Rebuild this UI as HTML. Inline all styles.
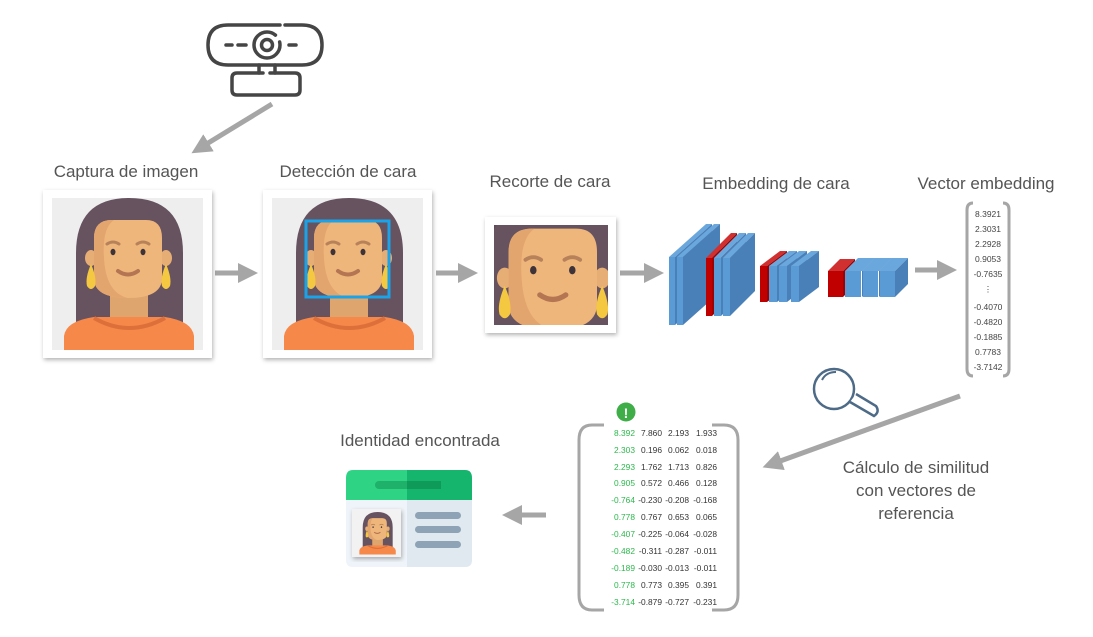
<!DOCTYPE html>
<html><head><meta charset="utf-8"><style>
html,body{margin:0;padding:0;background:#fff;}
svg{display:block;font-family:"Liberation Sans",sans-serif;}
.lbl{font-size:17px;fill:#555;text-anchor:middle;}
.v{font-size:8.5px;fill:#444;text-anchor:middle;}
.m{font-size:8.4px;fill:#333;text-anchor:end;}
.g{fill:#2db84d;}
</style></head><body>
<svg width="1093" height="637" viewBox="0 0 1093 637" xmlns="http://www.w3.org/2000/svg">
<defs>
<g id="face">
  <path d="M24,152 L24,55 Q24,0 77,0 Q131,0 131,55 L131,152 Z" fill="#675360"/>
  <rect x="58" y="90" width="38" height="40" fill="#dfa56e"/>
  <path d="M12,152 L12,138 Q14,123 42,119 L113,119 Q140,123 142,138 L142,152 Z" fill="#f6884a"/>
  <path d="M42,120 Q77,140 113,120" stroke="#dd6f3a" stroke-width="4" fill="none"/>
  <ellipse cx="39" cy="60" rx="6" ry="8" fill="#e6ad75"/>
  <ellipse cx="114" cy="60" rx="6" ry="8" fill="#e6ad75"/>
  <path d="M42,40 Q42,22 60,22 L94,22 Q110,22 110,40 L110,80 Q110,100 76,100 Q42,100 42,80 Z" fill="#efb67c"/>
  <path d="M42,40 Q42,22 60,22 L62,22 Q50,30 52,60 Q54,95 76,100 Q42,100 42,80 Z" fill="#e3a56e"/>
  <path d="M55,46 Q61,42 67,46" stroke="#b7825a" stroke-width="3" fill="none" stroke-linecap="round"/>
  <path d="M85,46 Q91,42 97,46" stroke="#b7825a" stroke-width="3" fill="none" stroke-linecap="round"/>
  <ellipse cx="61" cy="54" rx="2.5" ry="3.2" fill="#3d3338"/>
  <ellipse cx="91" cy="54" rx="2.5" ry="3.2" fill="#3d3338"/>
  <path d="M66,73 Q76,80 86,73" stroke="#b37552" stroke-width="4" fill="none" stroke-linecap="round"/>
  <path d="M39,66 Q33,80 35,88 Q39,94 43,88 Q45,80 39,66 Z" fill="#f5c842"/>
  <path d="M114,66 Q108,80 110,88 Q114,94 118,88 Q120,80 114,66 Z" fill="#f5c842"/>
</g>
<filter id="sh" x="-10%" y="-10%" width="120%" height="120%"><feDropShadow dx="1" dy="2" stdDeviation="2" flood-color="#000" flood-opacity="0.3"/></filter>
<clipPath id="c1"><rect x="52" y="198" width="151" height="152"/></clipPath>
<clipPath id="c2"><rect x="272" y="198" width="151" height="152"/></clipPath>
<clipPath id="c3"><rect x="494" y="225" width="114" height="100"/></clipPath>
<clipPath id="c4"><rect x="355" y="512" width="44" height="43"/></clipPath>
<marker id="ah" markerWidth="4" markerHeight="4" refX="2" refY="2" orient="auto" markerUnits="strokeWidth"><path d="M0,0 L4,2 L0,4 Z" fill="#a6a6a6"/></marker>
</defs>

<!-- webcam -->
<g stroke="#454545" stroke-width="3.5" fill="none" stroke-linecap="round">
  <path d="M285,25 L302,25 Q322,25 322,45 Q322,65 302,65 L228,65 Q208,65 208,45 Q208,25 228,25 L280,25"/>
  <circle cx="267" cy="45" r="13" stroke-dasharray="70 8"/>
  <circle cx="267" cy="45" r="5.5"/>
  <path d="M226,45 L232,45 M238,45 L246,45 M289,45 L296,45"/>
  <path d="M259,65 L259,73 M275,65 L275,73"/>
  <path d="M270,73 L295,73 Q300,73 300,78 L300,90 Q300,95 295,95 L237,95 Q232,95 232,90 L232,78 Q232,73 237,73 L263,73"/>
</g>

<!-- arrows -->
<g stroke="#a6a6a6" stroke-width="5" fill="none" marker-end="url(#ah)">
  <line x1="272" y1="104" x2="200" y2="148"/>
  <line x1="215" y1="273" x2="248" y2="273"/>
  <line x1="436" y1="273" x2="468" y2="273"/>
  <line x1="620" y1="273" x2="654" y2="273"/>
  <line x1="915" y1="270" x2="947" y2="270"/>
  <line x1="960" y1="396" x2="772" y2="464"/>
  <line x1="546" y1="515" x2="512" y2="515"/>
</g>

<!-- labels -->
<text class="lbl" x="126" y="177">Captura de imagen</text>
<text class="lbl" x="348" y="177">Detección de cara</text>
<text class="lbl" x="550" y="187">Recorte de cara</text>
<text class="lbl" x="776" y="189">Embedding de cara</text>
<text class="lbl" x="986" y="189">Vector embedding</text>
<text class="lbl" x="420" y="446">Identidad encontrada</text>
<text class="lbl" x="916" y="473">Cálculo de similitud</text>
<text class="lbl" x="916" y="496">con vectores de</text>
<text class="lbl" x="916" y="519">referencia</text>

<!-- photos -->
<rect x="43" y="190" width="169" height="168" fill="#fff" filter="url(#sh)"/>
<rect x="52" y="198" width="151" height="152" fill="#eeeeee"/>
<g clip-path="url(#c1)"><use href="#face" transform="translate(52,198)"/></g>

<rect x="263" y="190" width="169" height="168" fill="#fff" filter="url(#sh)"/>
<rect x="272" y="198" width="151" height="152" fill="#eeeeee"/>
<g clip-path="url(#c2)"><use href="#face" transform="translate(272,198)"/></g>
<rect x="306" y="221" width="83" height="76" fill="none" stroke="#1aa3e8" stroke-width="3"/>

<rect x="485" y="217" width="131" height="116" fill="#fff" filter="url(#sh)"/>
<rect x="494" y="225" width="114" height="100" fill="#5e4a58"/>
<g clip-path="url(#c3)"><use href="#face" transform="translate(454,200) scale(1.3)"/></g>

<!-- CNN blocks -->
<g>
  <!-- block1 -->
  <polygon points="669,257 706,224 712,224 675,257" fill="#6aa7dc"/>
  <rect x="669" y="257" width="6" height="68" fill="#5b9bd5"/>
  <polygon points="675,257 712,224 712,292 675,325" fill="#4a80b8"/>
  <polygon points="677,257 714,224 720,224 683,257" fill="#6aa7dc"/>
  <rect x="677" y="257" width="6" height="68" fill="#5b9bd5"/>
  <polygon points="683,257 720,224 720,292 683,325" fill="#4a80b8"/>
  <!-- block2 -->
  <polygon points="706,258 731,233 737,233 712,258" fill="#d03030"/>
  <rect x="706" y="258" width="6" height="58" fill="#c00000"/>
  <polygon points="712,258 737,233 737,291 712,316" fill="#a00000"/>
  <polygon points="714,258 739,233 746,233 721,258" fill="#6aa7dc"/>
  <rect x="714" y="258" width="7" height="58" fill="#5b9bd5"/>
  <polygon points="721,258 746,233 746,291 721,316" fill="#4a80b8"/>
  <polygon points="723,258 748,233 755,233 730,258" fill="#6aa7dc"/>
  <rect x="723" y="258" width="7" height="58" fill="#5b9bd5"/>
  <polygon points="730,258 755,233 755,291 730,316" fill="#4a80b8"/>
  <!-- block3 -->
  <polygon points="760,266 780,251 787,251 767,266" fill="#d03030"/>
  <rect x="760" y="266" width="7" height="36" fill="#c00000"/>
  <polygon points="767,266 787,251 787,287 767,302" fill="#a00000"/>
  <polygon points="769,266 789,251 797,251 777,266" fill="#6aa7dc"/>
  <rect x="769" y="266" width="8" height="36" fill="#5b9bd5"/>
  <polygon points="777,266 797,251 797,287 777,302" fill="#4a80b8"/>
  <polygon points="779,266 799,251 807,251 787,266" fill="#6aa7dc"/>
  <rect x="779" y="266" width="8" height="36" fill="#5b9bd5"/>
  <polygon points="787,266 807,251 807,287 787,302" fill="#4a80b8"/>
  <polygon points="791,266 811,251 819,251 799,266" fill="#6aa7dc"/>
  <rect x="791" y="266" width="8" height="36" fill="#5b9bd5"/>
  <polygon points="799,266 819,251 819,287 799,302" fill="#4a80b8"/>
  <!-- block4 -->
  <polygon points="828,271 840,259 855,259 843,271" fill="#d03030"/>
  <rect x="828" y="271" width="15" height="26" fill="#c00000"/>
  <polygon points="843,271 855,259 855,285 843,297" fill="#a00000"/>
  <polygon points="845,271 858,258 875,258 862,271" fill="#6aa7dc"/>
  <polygon points="862,271 875,258 875,284 862,297" fill="#4a80b8"/>
  <rect x="845" y="271" width="16" height="26" fill="#5b9bd5"/>
  <polygon points="862,271 875,258 892,258 879,271" fill="#6aa7dc"/>
  <polygon points="879,271 892,258 892,284 879,297" fill="#4a80b8"/>
  <rect x="863" y="271" width="15" height="26" fill="#5b9bd5"/>
  <polygon points="879,271 892,258 908,258 895,271" fill="#6aa7dc"/>
  <rect x="880" y="271" width="15" height="26" fill="#5b9bd5"/>
  <polygon points="895,271 908,258 908,284 895,297" fill="#4a80b8"/>
</g>

<!-- vector -->
<g stroke="#a6a6a6" stroke-width="3" fill="none">
  <path d="M973,203 Q967,203 967,210 L967,369 Q967,376 973,376"/>
  <path d="M1003,203 Q1009,203 1009,210 L1009,369 Q1009,376 1003,376"/>
</g>
<g class="v">
  <text x="988" y="217">8.3921</text><text x="988" y="232">2.3031</text><text x="988" y="247">2.2928</text>
  <text x="988" y="262">0.9053</text><text x="988" y="277">-0.7635</text><text x="988" y="292">⋮</text>
  <text x="988" y="310">-0.4070</text><text x="988" y="325">-0.4820</text><text x="988" y="340">-0.1885</text>
  <text x="988" y="355">0.7783</text><text x="988" y="370">-3.7142</text>
</g>

<!-- magnifier -->
<g stroke="#4d6b87" fill="none">
  <circle cx="834" cy="389" r="20" stroke-width="2.5" fill="#fff"/>
  <path d="M822,380 Q826,372 836,372" stroke-width="2"/>
  <path d="M850,402 L874,416 Q880,412 876,406 L856,394" stroke-width="2.5" fill="#fff"/>
</g>

<!-- matrix -->
<g stroke="#a6a6a6" stroke-width="3" fill="none">
  <path d="M604,425 L592,425 Q579,425 579,440 L579,595 Q579,610 592,610 L604,610"/>
  <path d="M712,425 L724,425 Q738,425 738,440 L738,595 Q738,610 724,610 L712,610"/>
</g>
<circle cx="626" cy="412" r="9.5" fill="#3fae49"/>
<text x="626" y="418" font-size="14" font-weight="bold" fill="#fff" text-anchor="middle">!</text>
<g class="m">
<text x="635" y="436" class="m g">8.392</text><text x="662" y="436">7.860</text><text x="689" y="436">2.193</text><text x="717" y="436">1.933</text>
<text x="635" y="453" class="m g">2.303</text><text x="662" y="453">0.196</text><text x="689" y="453">0.062</text><text x="717" y="453">0.018</text>
<text x="635" y="470" class="m g">2.293</text><text x="662" y="470">1.762</text><text x="689" y="470">1.713</text><text x="717" y="470">0.826</text>
<text x="635" y="486" class="m g">0.905</text><text x="662" y="486">0.572</text><text x="689" y="486">0.466</text><text x="717" y="486">0.128</text>
<text x="635" y="503" class="m g">-0.764</text><text x="662" y="503">-0.230</text><text x="689" y="503">-0.208</text><text x="717" y="503">-0.168</text>
<text x="635" y="520" class="m g">0.778</text><text x="662" y="520">0.767</text><text x="689" y="520">0.653</text><text x="717" y="520">0.065</text>
<text x="635" y="537" class="m g">-0.407</text><text x="662" y="537">-0.225</text><text x="689" y="537">-0.064</text><text x="717" y="537">-0.028</text>
<text x="635" y="554" class="m g">-0.482</text><text x="662" y="554">-0.311</text><text x="689" y="554">-0.287</text><text x="717" y="554">-0.011</text>
<text x="635" y="571" class="m g">-0.189</text><text x="662" y="571">-0.030</text><text x="689" y="571">-0.013</text><text x="717" y="571">-0.011</text>
<text x="635" y="588" class="m g">0.778</text><text x="662" y="588">0.773</text><text x="689" y="588">0.395</text><text x="717" y="588">0.391</text>
<text x="635" y="605" class="m g">-3.714</text><text x="662" y="605">-0.879</text><text x="689" y="605">-0.727</text><text x="717" y="605">-0.231</text>
</g>

<!-- ID card -->
<path d="M353,470 L465,470 Q472,470 472,478 L472,560 Q472,567 465,567 L353,567 Q346,567 346,560 L346,478 Q346,470 353,470 Z" fill="#eef4f9"/>
<path d="M407,470 L465,470 Q472,470 472,478 L472,560 Q472,567 465,567 L407,567 Z" fill="#e1e9f0"/>
<path d="M353,470 L407,470 L407,500 L346,500 L346,478 Q346,470 353,470 Z" fill="#2fd384"/>
<path d="M407,470 L465,470 Q472,470 472,478 L472,500 L407,500 Z" fill="#16b56d"/>
<rect x="375" y="481" width="66" height="8" rx="4" fill="#1fb06a"/>
<rect x="407" y="481" width="34" height="8" rx="0" fill="#0f9a5a"/>
<rect x="352" y="509" width="49" height="48" fill="#f2f2f2" filter="url(#sh)"/>
<g clip-path="url(#c4)"><use href="#face" transform="translate(356,512) scale(0.28)"/></g>
<g fill="#8ea3b5">
  <rect x="415" y="512" width="46" height="7" rx="3.5"/>
  <rect x="415" y="526" width="46" height="7" rx="3.5"/>
  <rect x="415" y="541" width="46" height="7" rx="3.5"/>
</g>
</svg>
</body></html>
